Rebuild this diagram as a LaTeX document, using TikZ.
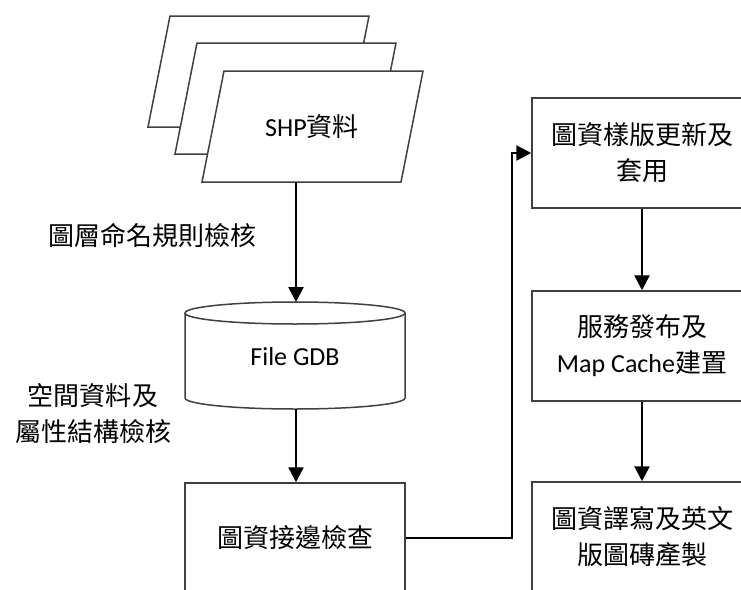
\documentclass[tikz,border=0pt]{standalone}
\usepackage{fontspec}
\setmainfont{Carlito}
\newfontfamily\cjk{Noto Sans CJK TC}
\usetikzlibrary{arrows.meta}
\newcommand{\zh}[1]{{\cjk #1}}
\begin{document}
\begin{tikzpicture}[x=1pt,y=-1pt,
  font=\fontsize{26}{36}\selectfont,
  shapeln/.style={draw=black!75, line width=1.5pt, fill=white},
  box/.style={shapeln, minimum width=220pt, minimum height=110pt, align=center, inner sep=0pt},
  conn/.style={line width=2.5pt, -{Triangle[length=15pt,width=15pt]}},
  lbl/.style={align=center, inner sep=0pt}]
\clip (0,0) rectangle (741,589);
\fill[white] (0,0) rectangle (741,589);
% stacked SHP sheets
\draw[shapeln] (170,16) -- (369,16) -- (347,127) -- (148,127) -- cycle;
\draw[shapeln] (197,43) -- (396,43) -- (374,154) -- (175,154) -- cycle;
\draw[shapeln] (224,71) -- (423,71) -- (401,182) -- (202,182) -- cycle;
\node[lbl] (shp) at (312,127) {SHP\zh{資料}};
\coordinate (shpb) at (296,182);
% cylinder
\draw[shapeln] (185,313) -- (185,398) arc[start angle=180, end angle=0, x radius=110, y radius=11] -- (405,313);
\draw[shapeln] (295,313) ellipse [x radius=110, y radius=11];
\node[lbl] (gdb) at (295,357) {File GDB};
\coordinate (gdbt) at (296,302);
\coordinate (gdbb) at (296,409);
% boxes
\node[box] (chk) at (295,538) {\zh{圖資接邊檢查}};
\node[box] (tpl) at (642,153) {\zh{圖資樣版更新及}\\\zh{套用}};
\node[box] (svc) at (642,346) {\zh{服務發布及}\\Map Cache\zh{建置}};
\node[box] (trn) at (642,537) {\zh{圖資譯寫及英文}\\\zh{版圖磚產製}};
% labels
\node[lbl] (l1) at (152,235) {\zh{圖層命名規則檢核}};
\node[lbl] (l2) at (93,414) {\zh{空間資料及}\\\zh{屬性結構檢核}};
% connectors
\draw[conn] (shpb) -- (gdbt);
\draw[conn] (gdbb) -- (chk.north -| gdbb);
\draw[conn] (chk.east) -- ++(106,0) |- (tpl.west);
\draw[conn] (tpl.south) -- (svc.north);
\draw[conn] (svc.south) -- (trn.north);
\end{tikzpicture}
\end{document}
